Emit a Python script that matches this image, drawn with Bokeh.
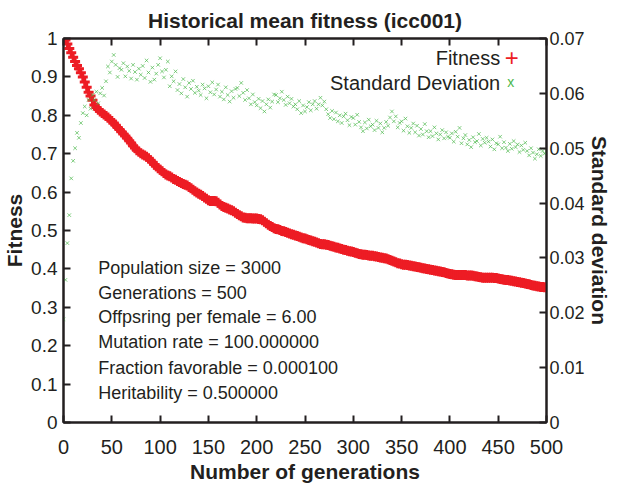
from bokeh.plotting import figure
from bokeh.models import (Range1d, LinearAxis, FixedTicker, CustomJSTickFormatter, Label)
from bokeh.embed import file_html
from bokeh.resources import INLINE

# ---------------- data ----------------
gen_step = 2
fitness = [
    1.000, 0.996, 0.986, 0.974, 0.963, 0.951, 0.940, 0.930, 0.921, 0.911,
    0.900, 0.887, 0.873, 0.860, 0.850, 0.839, 0.827, 0.820, 0.815, 0.810,
    0.806, 0.802, 0.798, 0.794, 0.789, 0.785, 0.780, 0.774, 0.768, 0.763,
    0.757, 0.751, 0.746, 0.740, 0.734, 0.728, 0.721, 0.715, 0.709, 0.705,
    0.701, 0.698, 0.695, 0.692, 0.688, 0.683, 0.678, 0.672, 0.667, 0.662,
    0.658, 0.654, 0.650, 0.646, 0.643, 0.641, 0.638, 0.634, 0.632, 0.629,
    0.626, 0.624, 0.621, 0.619, 0.617, 0.613, 0.610, 0.606, 0.602, 0.599,
    0.596, 0.593, 0.590, 0.586, 0.583, 0.579, 0.577, 0.577, 0.577, 0.576,
    0.572, 0.568, 0.564, 0.561, 0.559, 0.557, 0.555, 0.553, 0.550, 0.546,
    0.543, 0.540, 0.537, 0.534, 0.533, 0.532, 0.532, 0.532, 0.531, 0.531,
    0.531, 0.530, 0.529, 0.527, 0.523, 0.519, 0.515, 0.512, 0.509, 0.506,
    0.504, 0.503, 0.501, 0.499, 0.498, 0.496, 0.494, 0.492, 0.490, 0.489,
    0.487, 0.486, 0.484, 0.482, 0.480, 0.479, 0.477, 0.475, 0.474, 0.472,
    0.471, 0.469, 0.467, 0.465, 0.464, 0.464, 0.463, 0.462, 0.460, 0.459,
    0.458, 0.456, 0.455, 0.453, 0.452, 0.450, 0.449, 0.447, 0.446, 0.445,
    0.444, 0.442, 0.441, 0.439, 0.438, 0.437, 0.437, 0.436, 0.435, 0.434,
    0.434, 0.433, 0.432, 0.431, 0.430, 0.429, 0.428, 0.427, 0.425, 0.423,
    0.421, 0.419, 0.417, 0.415, 0.414, 0.412, 0.411, 0.411, 0.410, 0.409,
    0.408, 0.407, 0.406, 0.405, 0.404, 0.403, 0.402, 0.401, 0.400, 0.399,
    0.398, 0.397, 0.396, 0.395, 0.394, 0.393, 0.392, 0.391, 0.389, 0.388,
    0.387, 0.386, 0.385, 0.384, 0.384, 0.384, 0.384, 0.384, 0.384, 0.383,
    0.383, 0.383, 0.382, 0.381, 0.380, 0.379, 0.378, 0.377, 0.377, 0.377,
    0.377, 0.377, 0.377, 0.376, 0.376, 0.375, 0.374, 0.373, 0.372, 0.371,
    0.371, 0.370, 0.369, 0.368, 0.367, 0.366, 0.365, 0.364, 0.363, 0.362,
    0.361, 0.360, 0.358, 0.357, 0.356, 0.355, 0.354, 0.353, 0.353, 0.352,
    0.352,
]
std_dev = [
    0.0188, 0.0260, 0.0327, 0.0378, 0.0445, 0.0477, 0.0500, 0.0528, 0.0519, 0.0546,
    0.0564, 0.0576, 0.0560, 0.0588, 0.0572, 0.0597, 0.0588, 0.0603, 0.0582, 0.0600,
    0.0610, 0.0596, 0.0622, 0.0649, 0.0638, 0.0658, 0.0670, 0.0652, 0.0630, 0.0646,
    0.0643, 0.0655, 0.0631, 0.0649, 0.0641, 0.0627, 0.0652, 0.0639, 0.0625, 0.0645,
    0.0634, 0.0650, 0.0628, 0.0660, 0.0638, 0.0621, 0.0647, 0.0625, 0.0636, 0.0652,
    0.0664, 0.0640, 0.0629, 0.0643, 0.0658, 0.0613, 0.0631, 0.0622, 0.0640, 0.0606,
    0.0617, 0.0600, 0.0626, 0.0611, 0.0594, 0.0619, 0.0608, 0.0623, 0.0601, 0.0612,
    0.0605, 0.0597, 0.0616, 0.0609, 0.0591, 0.0613, 0.0602, 0.0620, 0.0598, 0.0607,
    0.0616, 0.0594, 0.0603, 0.0589, 0.0611, 0.0597, 0.0585, 0.0604, 0.0592, 0.0608,
    0.0610, 0.0595, 0.0619, 0.0601, 0.0588, 0.0606, 0.0591, 0.0580, 0.0598, 0.0584,
    0.0578, 0.0590, 0.0573, 0.0586, 0.0567, 0.0580, 0.0589, 0.0574, 0.0585, 0.0598,
    0.0597, 0.0584, 0.0591, 0.0603, 0.0588, 0.0579, 0.0594, 0.0582, 0.0590, 0.0576,
    0.0580, 0.0571, 0.0586, 0.0564, 0.0578, 0.0567, 0.0575, 0.0584, 0.0569, 0.0580,
    0.0586, 0.0572, 0.0580, 0.0592, 0.0578, 0.0585, 0.0571, 0.0562, 0.0555, 0.0568,
    0.0553, 0.0565, 0.0549, 0.0560, 0.0546, 0.0558, 0.0563, 0.0551, 0.0542, 0.0557,
    0.0555, 0.0543, 0.0561, 0.0548, 0.0538, 0.0531, 0.0547, 0.0536, 0.0552, 0.0540,
    0.0543, 0.0533, 0.0550, 0.0537, 0.0545, 0.0529, 0.0537, 0.0548, 0.0541, 0.0556,
    0.0567, 0.0549, 0.0558, 0.0538, 0.0546, 0.0549, 0.0532, 0.0554, 0.0540, 0.0528,
    0.0537, 0.0545, 0.0529, 0.0541, 0.0523, 0.0535, 0.0525, 0.0544, 0.0531, 0.0520,
    0.0531, 0.0522, 0.0538, 0.0527, 0.0516, 0.0525, 0.0533, 0.0518, 0.0529, 0.0521,
    0.0519, 0.0527, 0.0512, 0.0530, 0.0521, 0.0537, 0.0509, 0.0518, 0.0524, 0.0507,
    0.0515, 0.0502, 0.0520, 0.0511, 0.0513, 0.0526, 0.0505, 0.0517, 0.0510, 0.0519,
    0.0512, 0.0503, 0.0516, 0.0498, 0.0509, 0.0507, 0.0521, 0.0500, 0.0511, 0.0501,
    0.0495, 0.0508, 0.0499, 0.0513, 0.0502, 0.0507, 0.0493, 0.0505, 0.0497, 0.0510,
    0.0495, 0.0487, 0.0500, 0.0492, 0.0481, 0.0489, 0.0498, 0.0486, 0.0495, 0.0490,
    0.0495,
]
generations = [i * gen_step for i in range(len(fitness))]

x_ticks = [0, 50, 100, 150, 200, 250, 300, 350, 400, 450, 500]
fit_ticks = [0, 0.1, 0.2, 0.3, 0.4, 0.5, 0.6, 0.7, 0.8, 0.9, 1.0]
sd_ticks = [0, 0.01, 0.02, 0.03, 0.04, 0.05, 0.06, 0.07]

info_lines = [
    "Population size = 3000",
    "Generations = 500",
    "Offpsring per female = 6.00",
    "Mutation rate = 100.000000",
    "Fraction favorable = 0.000100",
    "Heritability = 0.500000",
]
info_y = [0.403, 0.338, 0.274, 0.209, 0.142, 0.078]

# ---------------- styling ----------------
RED = "#ed1c24"
GREEN = "#4cb84c"
INK = "#231f20"
FONT = "Liberation Sans"

p = figure(width=613, height=485, output_backend="svg", toolbar_location=None,
           x_range=Range1d(0, 500), y_range=Range1d(0, 1),
           min_border_left=50, min_border_right=50, min_border_top=32, min_border_bottom=56,
           title="Historical mean fitness (icc001)")
p.extra_y_ranges = {"sd": Range1d(0, 0.07)}
p.grid.visible = False
p.outline_line_color = INK
p.outline_line_width = 2
p.background_fill_color = "white"
p.border_fill_color = "white"

p.title.align = "center"
p.title.text_font = FONT
p.title.text_font_size = "21px"
p.title.text_font_style = "bold"
p.title.text_color = INK
p.title.standoff = 13

fmt = CustomJSTickFormatter(code="return String(+tick.toFixed(4));")
blank = CustomJSTickFormatter(code="return '';")

def style_axis(ax, ticks, size="19px", standoff=5, label_standoff=3):
    ax.ticker = FixedTicker(ticks=ticks)
    ax.formatter = fmt
    ax.axis_line_color = INK
    ax.axis_line_width = 2
    ax.major_tick_line_color = INK
    ax.major_tick_line_width = 2
    ax.major_tick_in = 7
    ax.major_tick_out = 0
    ax.minor_tick_line_color = None
    ax.major_label_text_font = FONT
    ax.major_label_text_font_size = size
    ax.major_label_text_color = INK
    ax.major_label_standoff = standoff
    ax.axis_label_text_font = FONT
    ax.axis_label_text_font_size = "21px"
    ax.axis_label_text_font_style = "bold"
    ax.axis_label_text_color = INK
    ax.axis_label_standoff = label_standoff

style_axis(p.xaxis[0], x_ticks, size="20px", standoff=17, label_standoff=3)
p.xaxis[0].axis_label = "Number of generations"
style_axis(p.yaxis[0], fit_ticks, size="19px", standoff=6, label_standoff=2)
p.yaxis[0].axis_label = "Fitness"

top_axis = LinearAxis()
style_axis(top_axis, x_ticks)
top_axis.formatter = blank
top_axis.major_label_standoff = 0
p.add_layout(top_axis, "above")

sd_axis = LinearAxis(y_range_name="sd", axis_label="Standard deviation")
style_axis(sd_axis, sd_ticks, size="18px", standoff=3, label_standoff=0)
p.add_layout(sd_axis, "right")

# ---------------- data glyphs ----------------
p.scatter(generations, fitness, marker="cross", size=10, line_width=3, color=RED)
p.scatter(generations, std_dev, marker="x", size=5, line_width=1, color=GREEN,
          alpha=0.7, y_range_name="sd")

# ---------------- parameters text ----------------
for txt, yy in zip(info_lines, info_y):
    p.add_layout(Label(x=36, y=yy, text=txt, text_font=FONT, text_font_size="18px",
                       text_color=INK, text_baseline="middle", text_align="left"))

# ---------------- legend (text then sample, as in the reference) ----------------
p.add_layout(Label(x=452, y=0.948, text="Fitness", text_font=FONT, text_font_size="20px",
                   text_color=INK, text_baseline="middle", text_align="right"))
p.add_layout(Label(x=464, y=0.950, text="+", text_font=FONT, text_font_size="24px",
                   text_color=RED, text_baseline="middle", text_align="center"))
p.add_layout(Label(x=452, y=0.884, text="Standard Deviation", text_font=FONT,
                   text_font_size="20px", text_color=INK, text_baseline="middle",
                   text_align="right"))
p.add_layout(Label(x=463, y=0.886, text="x", text_font=FONT, text_font_size="14px",
                   text_color=GREEN, text_baseline="middle", text_align="center"))

open("out.html", "w").write(file_html(p, INLINE))
